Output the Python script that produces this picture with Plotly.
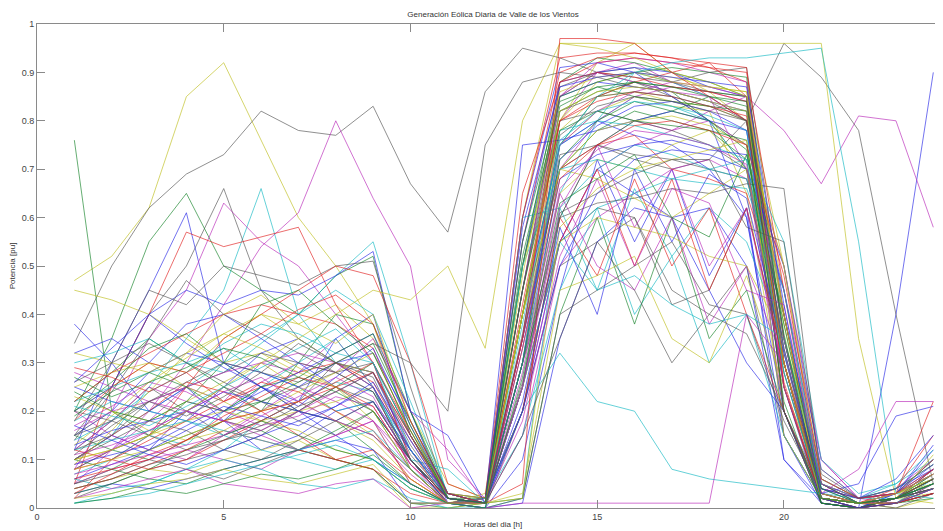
import plotly.graph_objects as go

hours = list(range(1, 25))

day01 = [0.47,0.52,0.62,0.85,0.92,0.76,0.60,0.50,0.38,0.15,0.02,0.01,0.60,0.96,0.96,0.96,0.90,0.86,0.80,0.45,0.05,0.01,0.00,0.02]
day02 = [0.34,0.50,0.62,0.69,0.73,0.82,0.78,0.77,0.83,0.67,0.57,0.86,0.95,0.93,0.90,0.88,0.85,0.80,0.70,0.40,0.05,0.01,0.02,0.05]
day03 = [0.76,0.20,0.15,0.22,0.30,0.25,0.20,0.18,0.12,0.05,0.01,0.02,0.40,0.75,0.85,0.88,0.86,0.80,0.75,0.30,0.02,0.01,0.03,0.10]
day04 = [0.05,0.12,0.20,0.30,0.42,0.54,0.61,0.80,0.64,0.50,0.10,0.02,0.30,0.80,0.90,0.92,0.88,0.85,0.70,0.20,0.02,0.00,0.01,0.05]
day05 = [0.10,0.15,0.12,0.20,0.18,0.25,0.20,0.15,0.10,0.05,0.01,0.01,0.20,0.55,0.70,0.65,0.60,0.62,0.50,0.10,0.02,0.00,0.40,0.90]
day06 = [0.08,0.12,0.18,0.25,0.22,0.30,0.28,0.35,0.25,0.10,0.02,0.01,0.25,0.60,0.75,0.80,0.78,0.82,0.85,0.78,0.67,0.81,0.80,0.58]
day07 = [0.12,0.18,0.25,0.20,0.15,0.18,0.22,0.30,0.28,0.15,0.03,0.02,0.35,0.70,0.75,0.72,0.70,0.72,0.80,0.96,0.89,0.78,0.40,0.05]
day08 = [0.20,0.25,0.30,0.28,0.35,0.40,0.38,0.42,0.35,0.20,0.05,0.02,0.40,0.80,0.92,0.96,0.96,0.96,0.96,0.96,0.96,0.35,0.02,0.01]
day09 = [0.10,0.15,0.25,0.35,0.45,0.66,0.40,0.30,0.25,0.10,0.02,0.01,0.30,0.65,0.80,0.90,0.88,0.85,0.80,0.40,0.05,0.02,0.05,0.10]
day10 = [0.15,0.25,0.40,0.50,0.66,0.45,0.35,0.30,0.25,0.08,0.01,0.02,0.45,0.85,0.90,0.91,0.88,0.86,0.85,0.35,0.02,0.01,0.00,0.03]
day11 = [0.20,0.35,0.55,0.65,0.50,0.45,0.40,0.48,0.52,0.20,0.02,0.01,0.50,0.88,0.93,0.92,0.90,0.88,0.85,0.30,0.01,0.00,0.02,0.05]
day12 = [0.12,0.30,0.45,0.61,0.30,0.25,0.22,0.35,0.40,0.15,0.02,0.01,0.60,0.91,0.92,0.90,0.85,0.80,0.60,0.15,0.01,0.00,0.03,0.08]
day13 = [0.08,0.20,0.35,0.45,0.63,0.55,0.50,0.40,0.30,0.10,0.01,0.02,0.20,0.55,0.70,0.75,0.78,0.80,0.75,0.50,0.10,0.02,0.01,0.04]
day14 = [0.05,0.25,0.40,0.57,0.54,0.56,0.58,0.42,0.30,0.10,0.01,0.01,0.40,0.80,0.85,0.88,0.90,0.92,0.85,0.20,0.02,0.01,0.02,0.08]
day15 = [0.10,0.15,0.20,0.25,0.30,0.35,0.40,0.48,0.55,0.30,0.02,0.01,0.30,0.75,0.80,0.85,0.83,0.80,0.70,0.25,0.01,0.00,0.01,0.06]
day16 = [0.20,0.25,0.40,0.45,0.42,0.45,0.44,0.48,0.53,0.20,0.01,0.02,0.50,0.85,0.88,0.87,0.86,0.84,0.82,0.15,0.02,0.01,0.03,0.12]
day17 = [0.45,0.43,0.40,0.35,0.30,0.32,0.28,0.25,0.18,0.05,0.01,0.02,0.35,0.75,0.82,0.85,0.83,0.82,0.65,0.20,0.02,0.01,0.02,0.04]
day18 = [0.18,0.30,0.45,0.42,0.50,0.48,0.46,0.50,0.51,0.25,0.02,0.01,0.45,0.87,0.90,0.89,0.88,0.90,0.91,0.40,0.02,0.01,0.02,0.07]
day19 = [0.38,0.30,0.20,0.25,0.18,0.12,0.15,0.20,0.22,0.10,0.01,0.00,0.10,0.45,0.72,0.55,0.70,0.48,0.62,0.10,0.01,0.00,0.02,0.05]
day20 = [0.22,0.28,0.35,0.30,0.25,0.20,0.30,0.40,0.38,0.20,0.03,0.01,0.25,0.70,0.78,0.82,0.80,0.78,0.72,0.25,0.02,0.01,0.01,0.03]
day21 = [0.02,0.10,0.15,0.25,0.35,0.40,0.45,0.50,0.48,0.30,0.05,0.02,0.55,0.90,0.93,0.94,0.93,0.91,0.88,0.20,0.01,0.00,0.02,0.08]
day22 = [0.30,0.32,0.35,0.30,0.28,0.34,0.40,0.45,0.40,0.22,0.03,0.01,0.60,0.62,0.45,0.66,0.52,0.62,0.55,0.35,0.05,0.02,0.03,0.06]
day23 = [0.12,0.18,0.25,0.22,0.20,0.26,0.30,0.28,0.35,0.20,0.12,0.01,0.15,0.50,0.60,0.65,0.70,0.72,0.68,0.45,0.10,0.02,0.04,0.10]
day24 = [0.15,0.20,0.18,0.22,0.26,0.30,0.25,0.20,0.15,0.08,0.01,0.03,0.50,0.80,0.88,0.90,0.89,0.87,0.86,0.50,0.03,0.01,0.02,0.03]
day25 = [0.08,0.12,0.15,0.20,0.25,0.22,0.18,0.15,0.20,0.10,0.02,0.01,0.30,0.55,0.62,0.60,0.45,0.40,0.50,0.15,0.02,0.01,0.01,0.05]
day26 = [0.25,0.22,0.20,0.18,0.25,0.32,0.35,0.30,0.28,0.12,0.02,0.01,0.40,0.75,0.80,0.77,0.75,0.70,0.60,0.20,0.01,0.00,0.03,0.13]
day27 = [0.05,0.08,0.12,0.15,0.18,0.22,0.20,0.25,0.30,0.15,0.02,0.02,0.20,0.60,0.75,0.80,0.82,0.85,0.83,0.30,0.02,0.01,0.02,0.06]
day28 = [0.18,0.25,0.30,0.28,0.22,0.25,0.28,0.30,0.26,0.12,0.01,0.01,0.35,0.70,0.75,0.77,0.70,0.68,0.65,0.40,0.03,0.01,0.03,0.22]
day29 = [0.07,0.10,0.15,0.13,0.20,0.25,0.30,0.35,0.25,0.10,0.01,0.02,0.15,0.45,0.62,0.40,0.52,0.30,0.40,0.15,0.02,0.00,0.02,0.05]
day30 = [0.20,0.15,0.12,0.10,0.15,0.20,0.25,0.22,0.18,0.05,0.01,0.02,0.45,0.85,0.90,0.88,0.86,0.85,0.80,0.25,0.01,0.00,0.01,0.03]
day31 = [0.10,0.12,0.15,0.18,0.20,0.18,0.16,0.12,0.10,0.04,0.01,0.01,0.30,0.65,0.72,0.70,0.75,0.78,0.70,0.35,0.03,0.01,0.02,0.04]
day32 = [0.02,0.05,0.08,0.10,0.12,0.15,0.20,0.18,0.15,0.08,0.01,0.00,0.20,0.50,0.55,0.60,0.42,0.45,0.62,0.30,0.02,0.01,0.02,0.06]
day33 = [0.32,0.35,0.30,0.38,0.40,0.35,0.30,0.25,0.20,0.10,0.01,0.01,0.55,0.88,0.90,0.91,0.90,0.87,0.85,0.30,0.01,0.00,0.02,0.05]
day34 = [0.15,0.12,0.10,0.14,0.18,0.16,0.12,0.10,0.08,0.01,0.00,0.01,0.02,0.40,0.60,0.38,0.60,0.35,0.45,0.20,0.03,0.01,0.02,0.08]
day35 = [0.10,0.15,0.20,0.26,0.24,0.20,0.15,0.10,0.12,0.06,0.01,0.02,0.65,0.88,0.92,0.93,0.92,0.91,0.90,0.45,0.02,0.00,0.01,0.04]
day36 = [0.22,0.25,0.28,0.30,0.33,0.28,0.25,0.20,0.22,0.10,0.08,0.01,0.25,0.55,0.62,0.65,0.68,0.70,0.72,0.55,0.10,0.03,0.05,0.12]
day37 = [0.05,0.08,0.10,0.12,0.10,0.08,0.12,0.15,0.18,0.08,0.01,0.01,0.35,0.70,0.80,0.85,0.87,0.86,0.84,0.20,0.01,0.00,0.02,0.05]
day38 = [0.25,0.28,0.30,0.25,0.22,0.18,0.20,0.22,0.25,0.12,0.02,0.01,0.40,0.78,0.85,0.86,0.84,0.83,0.80,0.15,0.02,0.01,0.03,0.06]
day39 = [0.12,0.15,0.22,0.25,0.28,0.32,0.30,0.28,0.30,0.15,0.03,0.02,0.45,0.80,0.82,0.80,0.78,0.75,0.70,0.25,0.02,0.01,0.02,0.04]
day40 = [0.03,0.05,0.04,0.06,0.08,0.10,0.12,0.14,0.12,0.01,0.01,0.00,0.01,0.35,0.55,0.62,0.60,0.45,0.30,0.20,0.02,0.01,0.01,0.03]
day41 = [0.24,0.20,0.18,0.22,0.20,0.25,0.27,0.24,0.20,0.08,0.01,0.01,0.50,0.83,0.87,0.85,0.84,0.83,0.82,0.35,0.02,0.00,0.02,0.07]
day42 = [0.08,0.10,0.14,0.18,0.22,0.26,0.24,0.20,0.16,0.06,0.01,0.02,0.20,0.60,0.48,0.68,0.50,0.62,0.40,0.20,0.03,0.01,0.04,0.15]
day43 = [0.06,0.04,0.05,0.08,0.12,0.18,0.22,0.26,0.24,0.12,0.02,0.01,0.30,0.78,0.80,0.79,0.77,0.75,0.72,0.30,0.02,0.01,0.02,0.04]
day44 = [0.28,0.25,0.22,0.20,0.18,0.15,0.12,0.15,0.18,0.10,0.02,0.01,0.25,0.65,0.50,0.45,0.60,0.38,0.50,0.30,0.04,0.01,0.02,0.08]
day45 = [0.04,0.06,0.08,0.07,0.10,0.12,0.14,0.10,0.08,0.00,0.00,0.01,0.03,0.45,0.48,0.52,0.35,0.30,0.48,0.25,0.05,0.02,0.03,0.06]
day46 = [0.20,0.18,0.15,0.12,0.14,0.16,0.20,0.25,0.22,0.10,0.02,0.01,0.35,0.73,0.75,0.73,0.72,0.70,0.68,0.40,0.05,0.01,0.02,0.05]
day47 = [0.15,0.20,0.28,0.32,0.30,0.28,0.25,0.30,0.32,0.18,0.03,0.01,0.75,0.76,0.78,0.80,0.82,0.80,0.78,0.30,0.02,0.01,0.02,0.06]
day48 = [0.10,0.08,0.06,0.05,0.08,0.10,0.12,0.16,0.20,0.10,0.02,0.01,0.40,0.82,0.86,0.88,0.87,0.86,0.85,0.20,0.01,0.00,0.01,0.03]
day49 = [0.22,0.28,0.32,0.36,0.40,0.42,0.40,0.38,0.33,0.15,0.02,0.01,0.60,0.93,0.94,0.94,0.93,0.92,0.91,0.25,0.02,0.01,0.02,0.05]
day50 = [0.01,0.03,0.05,0.08,0.10,0.08,0.05,0.04,0.06,0.02,0.00,0.00,0.02,0.62,0.70,0.75,0.73,0.70,0.68,0.40,0.05,0.02,0.03,0.10]
day51 = [0.16,0.20,0.22,0.25,0.28,0.30,0.32,0.30,0.25,0.12,0.02,0.01,0.35,0.85,0.92,0.93,0.92,0.90,0.88,0.30,0.02,0.01,0.01,0.04]
day52 = [0.32,0.30,0.28,0.32,0.36,0.40,0.35,0.30,0.28,0.14,0.03,0.02,0.25,0.55,0.60,0.58,0.56,0.52,0.50,0.35,0.08,0.02,0.03,0.07]
day53 = [0.05,0.07,0.10,0.08,0.06,0.09,0.12,0.10,0.08,0.01,0.01,0.00,0.02,0.40,0.45,0.50,0.55,0.42,0.40,0.18,0.03,0.01,0.02,0.05]
day54 = [0.13,0.16,0.18,0.20,0.24,0.22,0.20,0.18,0.22,0.12,0.03,0.01,0.30,0.68,0.73,0.75,0.76,0.74,0.73,0.45,0.06,0.02,0.06,0.15]
day55 = [0.03,0.05,0.08,0.12,0.15,0.18,0.15,0.12,0.10,0.04,0.01,0.01,0.55,0.85,0.88,0.90,0.91,0.90,0.89,0.35,0.01,0.00,0.01,0.02]
day56 = [0.12,0.10,0.08,0.10,0.14,0.18,0.22,0.26,0.30,0.16,0.03,0.01,0.25,0.55,0.70,0.50,0.68,0.45,0.62,0.30,0.04,0.02,0.03,0.10]
day57 = [0.18,0.22,0.20,0.18,0.15,0.12,0.10,0.08,0.10,0.05,0.01,0.02,0.20,0.32,0.22,0.20,0.08,0.06,0.05,0.04,0.03,0.02,0.02,0.05]
day58 = [0.02,0.04,0.06,0.08,0.05,0.04,0.03,0.05,0.06,0.00,0.01,0.00,0.01,0.01,0.01,0.01,0.01,0.01,0.40,0.30,0.02,0.01,0.02,0.04]
day59 = [0.08,0.10,0.12,0.15,0.18,0.20,0.22,0.18,0.14,0.06,0.01,0.01,0.40,0.70,0.78,0.80,0.81,0.79,0.75,0.30,0.02,0.01,0.02,0.05]
day60 = [0.26,0.30,0.34,0.30,0.26,0.22,0.25,0.28,0.24,0.10,0.02,0.01,0.30,0.60,0.63,0.64,0.66,0.65,0.67,0.66,0.05,0.01,0.02,0.04]
day61 = [0.06,0.09,0.12,0.16,0.20,0.24,0.28,0.32,0.36,0.20,0.15,0.01,0.20,0.50,0.65,0.72,0.74,0.73,0.70,0.50,0.08,0.02,0.04,0.08]
day62 = [0.19,0.24,0.28,0.25,0.20,0.22,0.26,0.30,0.34,0.18,0.03,0.01,0.45,0.78,0.82,0.80,0.79,0.78,0.76,0.22,0.01,0.00,0.02,0.06]
day63 = [0.04,0.06,0.09,0.12,0.16,0.14,0.12,0.10,0.08,0.03,0.01,0.01,0.35,0.88,0.90,0.89,0.87,0.86,0.84,0.40,0.02,0.01,0.01,0.03]
day64 = [0.14,0.18,0.24,0.28,0.34,0.38,0.36,0.32,0.30,0.15,0.02,0.01,0.25,0.55,0.45,0.48,0.42,0.38,0.40,0.35,0.06,0.02,0.04,0.09]
day65 = [0.09,0.12,0.16,0.20,0.18,0.16,0.20,0.24,0.28,0.14,0.02,0.01,0.30,0.75,0.82,0.86,0.88,0.87,0.85,0.35,0.02,0.01,0.03,0.07]
day66 = [0.02,0.03,0.05,0.06,0.08,0.06,0.05,0.07,0.09,0.01,0.01,0.01,0.02,0.58,0.66,0.70,0.72,0.74,0.76,0.50,0.06,0.02,0.03,0.05]
day67 = [0.10,0.14,0.18,0.16,0.12,0.10,0.14,0.18,0.22,0.10,0.02,0.01,0.15,0.35,0.55,0.45,0.30,0.40,0.36,0.20,0.04,0.02,0.03,0.07]
day68 = [0.23,0.20,0.16,0.14,0.16,0.20,0.24,0.28,0.32,0.16,0.03,0.01,0.40,0.70,0.68,0.64,0.60,0.65,0.70,0.30,0.02,0.01,0.02,0.11]
day69 = [0.11,0.13,0.16,0.20,0.24,0.27,0.22,0.18,0.15,0.07,0.01,0.01,0.25,0.62,0.75,0.58,0.70,0.50,0.62,0.28,0.03,0.01,0.02,0.06]
day70 = [0.01,0.02,0.03,0.05,0.07,0.09,0.11,0.13,0.10,0.04,0.01,0.00,0.50,0.70,0.72,0.70,0.68,0.67,0.66,0.45,0.04,0.01,0.02,0.05]
day71 = [0.10,0.12,0.15,0.20,0.25,0.30,0.35,0.40,0.45,0.43,0.50,0.33,0.80,0.96,0.95,0.93,0.90,0.88,0.85,0.40,0.03,0.01,0.02,0.05]
day72 = [0.15,0.18,0.22,0.26,0.30,0.28,0.26,0.30,0.34,0.30,0.20,0.75,0.88,0.90,0.89,0.87,0.86,0.84,0.80,0.30,0.02,0.01,0.02,0.04]
day73 = [0.06,0.08,0.10,0.14,0.18,0.20,0.22,0.25,0.28,0.15,0.02,0.01,0.05,0.97,0.97,0.96,0.90,0.85,0.80,0.30,0.02,0.00,0.01,0.03]
day74 = [0.12,0.14,0.16,0.18,0.16,0.14,0.12,0.14,0.16,0.08,0.02,0.01,0.30,0.75,0.85,0.90,0.92,0.93,0.93,0.94,0.95,0.55,0.03,0.02]
day75 = [0.17,0.21,0.26,0.24,0.20,0.17,0.19,0.23,0.21,0.09,0.02,0.01,0.28,0.66,0.74,0.78,0.77,0.75,0.71,0.25,0.03,0.08,0.22,0.22]
day76 = [0.09,0.11,0.13,0.17,0.21,0.19,0.17,0.21,0.25,0.12,0.02,0.01,0.33,0.72,0.79,0.83,0.84,0.82,0.78,0.33,0.03,0.05,0.19,0.21]
day77 = [0.20,0.26,0.33,0.36,0.30,0.42,0.45,0.38,0.32,0.16,0.02,0.01,0.30,0.72,0.80,0.84,0.82,0.80,0.74,0.28,0.02,0.01,0.02,0.05]
day78 = [0.03,0.07,0.11,0.14,0.19,0.23,0.27,0.25,0.21,0.09,0.02,0.01,0.42,0.80,0.84,0.86,0.85,0.83,0.81,0.26,0.02,0.01,0.02,0.06]
day79 = [0.14,0.24,0.35,0.47,0.40,0.36,0.32,0.28,0.24,0.10,0.01,0.01,0.36,0.77,0.83,0.85,0.84,0.82,0.80,0.32,0.02,0.00,0.02,0.04]
day80 = [0.09,0.16,0.24,0.32,0.40,0.44,0.38,0.34,0.40,0.18,0.02,0.01,0.48,0.86,0.89,0.90,0.88,0.87,0.86,0.38,0.02,0.01,0.01,0.04]
day81 = [0.26,0.33,0.40,0.34,0.29,0.25,0.21,0.27,0.33,0.17,0.03,0.01,0.22,0.58,0.40,0.70,0.55,0.69,0.64,0.32,0.04,0.02,0.03,0.09]
day82 = [0.07,0.09,0.11,0.13,0.15,0.19,0.23,0.27,0.23,0.09,0.01,0.01,0.18,0.52,0.68,0.50,0.66,0.63,0.45,0.42,0.05,0.02,0.03,0.07]
day83 = [0.21,0.19,0.17,0.21,0.25,0.29,0.33,0.37,0.30,0.12,0.02,0.01,0.38,0.76,0.82,0.84,0.83,0.81,0.78,0.28,0.02,0.01,0.02,0.05]
day84 = [0.01,0.02,0.04,0.03,0.05,0.07,0.06,0.08,0.11,0.05,0.01,0.00,0.27,0.63,0.68,0.73,0.60,0.56,0.73,0.38,0.04,0.01,0.02,0.06]
day85 = [0.29,0.27,0.24,0.28,0.32,0.36,0.41,0.44,0.38,0.18,0.03,0.01,0.33,0.68,0.75,0.79,0.80,0.78,0.75,0.48,0.06,0.02,0.03,0.08]
day86 = [0.11,0.17,0.22,0.19,0.23,0.28,0.34,0.30,0.27,0.11,0.02,0.01,0.45,0.82,0.85,0.86,0.85,0.83,0.80,0.33,0.02,0.01,0.02,0.05]
day87 = [0.17,0.14,0.11,0.09,0.12,0.15,0.18,0.21,0.26,0.14,0.02,0.01,0.58,0.87,0.89,0.90,0.89,0.88,0.87,0.42,0.02,0.00,0.01,0.04]
day88 = [0.13,0.19,0.26,0.31,0.36,0.33,0.29,0.25,0.20,0.08,0.01,0.01,0.40,0.82,0.86,0.87,0.86,0.84,0.82,0.30,0.02,0.01,0.03,0.07]
day89 = [0.04,0.06,0.09,0.11,0.14,0.17,0.21,0.24,0.28,0.13,0.02,0.01,0.26,0.61,0.65,0.69,0.72,0.72,0.58,0.55,0.07,0.02,0.04,0.09]
day90 = [0.27,0.23,0.26,0.29,0.33,0.31,0.27,0.32,0.36,0.17,0.02,0.01,0.52,0.84,0.87,0.88,0.87,0.85,0.84,0.36,0.02,0.01,0.02,0.05]

days = [day01, day02, day03, day04, day05, day06, day07, day08, day09, day10,
        day11, day12, day13, day14, day15, day16, day17, day18, day19, day20,
        day21, day22, day23, day24, day25, day26, day27, day28, day29, day30,
        day31, day32, day33, day34, day35, day36, day37, day38, day39, day40,
        day41, day42, day43, day44, day45, day46, day47, day48, day49, day50,
        day51, day52, day53, day54, day55, day56, day57, day58, day59, day60,
        day61, day62, day63, day64, day65, day66, day67, day68, day69, day70,
        day71, day72, day73, day74, day75, day76, day77, day78, day79, day80,
        day81, day82, day83, day84, day85, day86, day87, day88, day89, day90]

x_ticks = [0, 5, 10, 15, 20]
y_ticks = [0, 0.1, 0.2, 0.3, 0.4, 0.5, 0.6, 0.7, 0.8, 0.9, 1]
y_tick_labels = ["0", "0.1", "0.2", "0.3", "0.4", "0.5", "0.6", "0.7", "0.8", "0.9", "1"]

palette = {
    "b": "rgba(40,40,230,0.65)",
    "g": "rgba(20,130,40,0.65)",
    "r": "rgba(225,30,30,0.65)",
    "c": "rgba(20,185,195,0.65)",
    "m": "rgba(185,40,185,0.65)",
    "y": "rgba(190,190,30,0.65)",
    "k": "rgba(85,85,85,0.65)",
}
color_codes = ("ykgmbmkyckgbmrcbyk"
               "bgrcmykbgrcmykbgrcmykbgrcmykbgrcmykbgrcmykbgrcmyk"
               "ymcykr"
               "cmbgrkybmcgrkb")

fig = go.Figure()
for i, d in enumerate(days):
    fig.add_trace(go.Scatter(
        x=hours, y=d, mode="lines",
        line=dict(color=palette[color_codes[i % len(color_codes)]], width=1),
        showlegend=False, hoverinfo="skip"))

axis_color = "#8a8a8a"
font_family = "Liberation Sans, Arial, sans-serif"
tick_font = dict(family=font_family, size=9, color="#444")

# The page body has an 8px margin, so the figure is offset by 8px in the window.
fig.update_layout(
    width=943, height=531,
    margin=dict(l=29, r=2, t=16, b=31),
    paper_bgcolor="white", plot_bgcolor="white",
    title=dict(text="Generación Eólica Diaria de Valle de los Vientos",
               x=485/943, xref="container", xanchor="center",
               y=1 - 6/531, yref="container", yanchor="middle",
               font=dict(family=font_family, size=8, color="#333")),
    xaxis=dict(range=[0, 24.42], tickmode="array", tickvals=x_ticks,
               ticks="inside", ticklen=8, tickcolor=axis_color,
               showline=True, linecolor=axis_color, linewidth=1, mirror="ticks",
               showgrid=False, zeroline=False, tickfont=tick_font,
               title=dict(text="Horas del dia [h]", standoff=0,
                          font=dict(family=font_family, size=8, color="#333"))),
    yaxis=dict(range=[0, 1], tickmode="array", tickvals=y_ticks, ticktext=y_tick_labels,
               ticks="inside", ticklen=8, tickcolor=axis_color,
               showline=True, linecolor=axis_color, linewidth=1, mirror="ticks",
               showgrid=False, zeroline=False, tickfont=tick_font,
               title=dict(text="Potencia [pu]", standoff=4,
                          font=dict(family=font_family, size=8, color="#333"))),
)

fig.write_html("out.html")
